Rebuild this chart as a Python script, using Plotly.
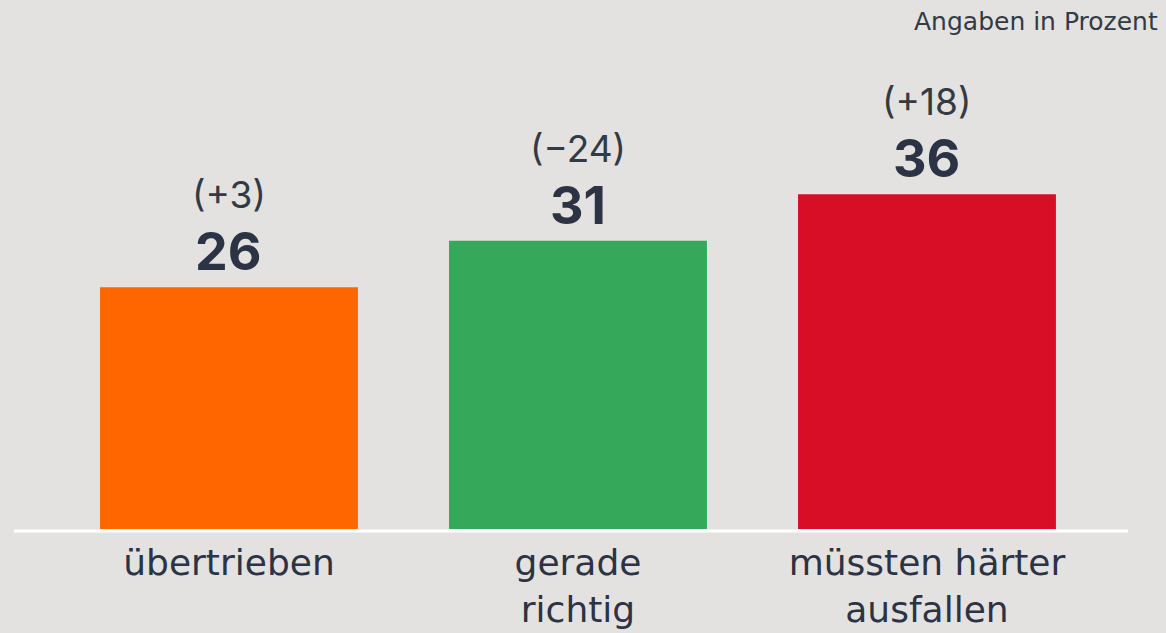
import plotly.graph_objects as go

categories = ["übertrieben", "gerade<br>richtig", "müssten härter<br>ausfallen"]
values = [26, 31, 36]
changes = ["(+3)", "(\u221224)", "(+18)"]
colors = ["#ff6600", "#35a85a", "#d80d26"]

BG = "#e3e2e0"
TXT = "#2b3344"
FONT = "Inter, Open Sans, sans-serif"
FONT_W = "DejaVu Sans, Inter, sans-serif"

x = list(range(len(categories)))

fig = go.Figure()
fig.add_trace(go.Bar(
    x=x, y=values, marker=dict(color=colors, line=dict(width=0)),
    width=0.739, hoverinfo="skip",
))

for xi, v, c in zip(x, values, changes):
    fig.add_annotation(x=xi, y=v, xref="x", yref="y", text=f"<b>{v}</b>",
                       showarrow=False, yanchor="bottom", yshift=2,
                       font=dict(family=FONT, size=52, color=TXT))
    fig.add_annotation(x=xi, y=v, xref="x", yref="y", text=c,
                       showarrow=False, yanchor="bottom", yshift=68,
                       font=dict(family=FONT, size=37, color="#333a44"))

fig.add_annotation(x=1, y=1, xref="paper", yref="paper", xanchor="right", yanchor="top",
                   text="Angaben in Prozent", showarrow=False, xshift=32, yshift=-5,
                   font=dict(family=FONT_W, size=25, color="#333a44"))

fig.add_shape(type="line", xref="paper", yref="paper", x0=0, x1=1, y0=-0.004, y1=-0.004,
              line=dict(color="white", width=3), layer="above")

fig.update_layout(
    width=1166, height=633,
    margin=dict(l=14, r=38, t=0, b=104, autoexpand=False),
    paper_bgcolor=BG, plot_bgcolor=BG,
    showlegend=False,
    xaxis=dict(range=[-0.616, 2.576], tickvals=x, ticktext=categories,
               tickfont=dict(family=FONT_W, size=36, color=TXT), automargin=False,
               ticks="outside", ticklen=2, tickcolor=BG, showgrid=False,
               zeroline=False, showline=False, fixedrange=True),
    yaxis=dict(range=[0, 56.9], visible=False, showgrid=False, zeroline=False,
               fixedrange=True, automargin=False),
)

fig.write_html("out.html")
